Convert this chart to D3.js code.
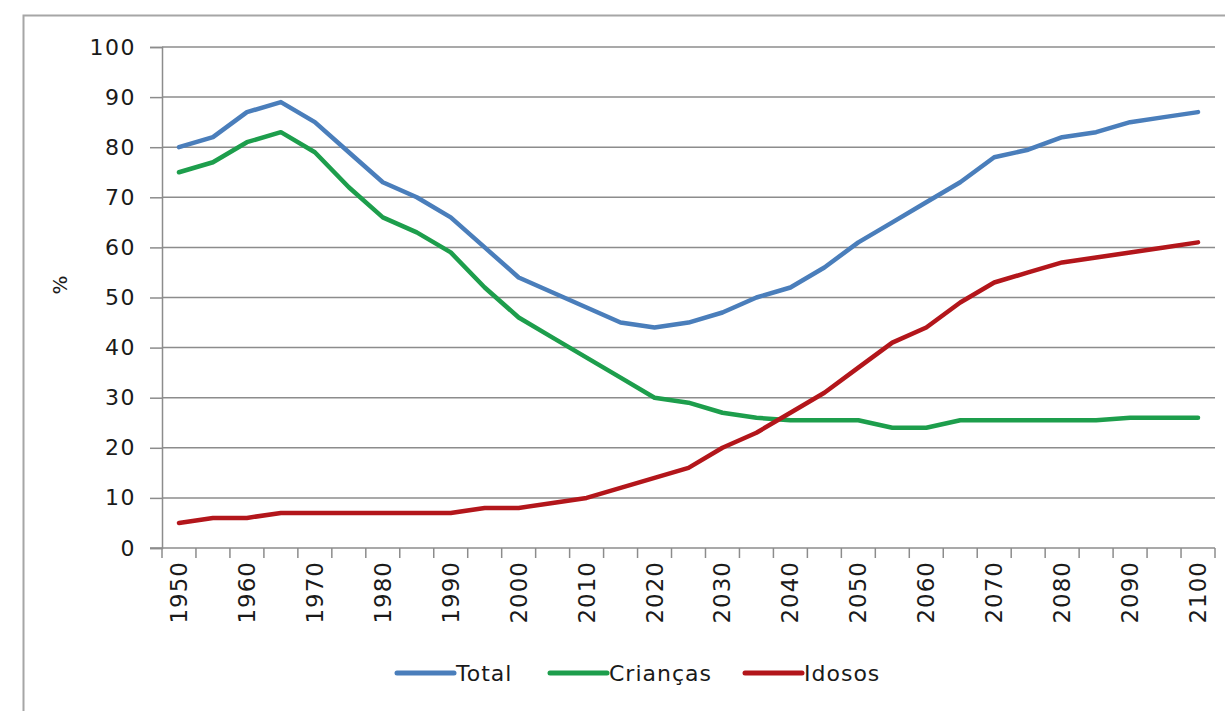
<!DOCTYPE html>
<html>
<head>
<meta charset="utf-8">
<script src="https://cdn.jsdelivr.net/npm/d3@7"></script>
<style>
  body { margin: 0; background: #fff; }
  svg { display: block; }
  text { font-family: "DejaVu Sans", sans-serif; fill: #1a1a1a; }
</style>
</head>
<body>
<svg id="chart" width="1225" height="711"></svg>
<script>
const years = [1950,1955,1960,1965,1970,1975,1980,1985,1990,1995,2000,2005,2010,2015,2020,2025,2030,2035,2040,2045,2050,2055,2060,2065,2070,2075,2080,2085,2090,2095,2100];
const total    = [80,82,87,89,85,79,73,70,66,60,54,51,48,45,44,45,47,50,52,56,61,65,69,73,78,79.5,82,83,85,86,87];
const criancas = [75,77,81,83,79,72,66,63,59,52,46,42,38,34,30,29,27,26,25.5,25.5,25.5,24,24,25.5,25.5,25.5,25.5,25.5,26,26,26];
const idosos   = [5,6,6,7,7,7,7,7,7,8,8,9,10,12,14,16,20,23,27,31,36,41,44,49,53,55,57,58,59,60,61];
const yTicks = [0,10,20,30,40,50,60,70,80,90,100];
const xLabels = [1950,1960,1970,1980,1990,2000,2010,2020,2030,2040,2050,2060,2070,2080,2090,2100];
const seriesNames = ["Total","Crianças","Idosos"];
const seriesColors = ["#4a7ebb","#1d9e4c","#b3161b"];

const svg = d3.select("#chart");
const L = 162, R = 1215, T = 47, B = 548;

// outer frame
svg.append("path")
  .attr("d", `M23.5,712 L23.5,15.5 L1226,15.5`)
  .attr("fill","none").attr("stroke","#a6a6a6").attr("stroke-width",2);

const x = d3.scaleBand().domain(years).range([L, R]).padding(0);
const y = d3.scaleLinear().domain([0,100]).range([B, T]);

// gridlines
svg.append("g").selectAll("line").data(yTicks.filter(d => d > 0)).join("line")
  .attr("x1", L).attr("x2", R)
  .attr("y1", d => y(d)).attr("y2", d => y(d))
  .attr("stroke","#8c8c8c").attr("stroke-width",1.5);

// y axis
const yAxis = d3.axisLeft(y).tickValues(yTicks).tickSize(12).tickPadding(14);
const gy = svg.append("g").attr("transform", `translate(${L},0)`).call(yAxis);
gy.select(".domain").attr("stroke","#8c8c8c").attr("stroke-width",1.5);
gy.selectAll(".tick line").attr("stroke","#8c8c8c").attr("stroke-width",1.5);
gy.selectAll(".tick text").attr("font-size", 22).attr("fill","#1a1a1a")
  .attr("font-family","DejaVu Sans, sans-serif").style("letter-spacing","1.5px");

// x axis: baseline and ticks at category boundaries
const bounds = years.map(d => x(d)).concat([R]);
const gx = svg.append("g");
gx.append("line").attr("x1", L-12).attr("x2", R).attr("y1", B).attr("y2", B)
  .attr("stroke","#8c8c8c").attr("stroke-width",1.5);
gx.selectAll("line.tk").data(bounds).join("line").attr("class","tk")
  .attr("x1", d => d).attr("x2", d => d).attr("y1", B).attr("y2", B + 10)
  .attr("stroke","#8c8c8c").attr("stroke-width",1.5);
gx.selectAll("text").data(xLabels).join("text")
  .attr("transform", d => `translate(${x(d) + x.bandwidth()/2 + 8},${B + 13}) rotate(-90)`)
  .attr("text-anchor","end")
  .attr("font-size", 23)
  .style("letter-spacing","1px")
  .text(d => d);

// y label
svg.append("text").attr("transform", `translate(67,285) rotate(-90)`)
  .attr("text-anchor","middle").attr("font-size", 20).text("%");

// lines
const line = d3.line().x((d,i) => x(years[i]) + x.bandwidth()/2).y(d => y(d));
[total, criancas, idosos].forEach((s, k) => {
  svg.append("path").datum(s)
    .attr("d", line).attr("fill","none")
    .attr("stroke", seriesColors[k]).attr("stroke-width", 4.5)
    .attr("stroke-linejoin","round").attr("stroke-linecap","round");
});

// legend
const legendX = [397, 550, 745];
const lg = svg.append("g");
seriesNames.forEach((n, k) => {
  lg.append("line").attr("x1", legendX[k]).attr("x2", legendX[k] + 57)
    .attr("y1", 673).attr("y2", 673)
    .attr("stroke", seriesColors[k]).attr("stroke-width", 5).attr("stroke-linecap","round");
  lg.append("text").attr("x", legendX[k] + 59).attr("y", 681)
    .attr("font-size", 22).style("letter-spacing","1px").text(n);
});
</script>
</body>
</html>
